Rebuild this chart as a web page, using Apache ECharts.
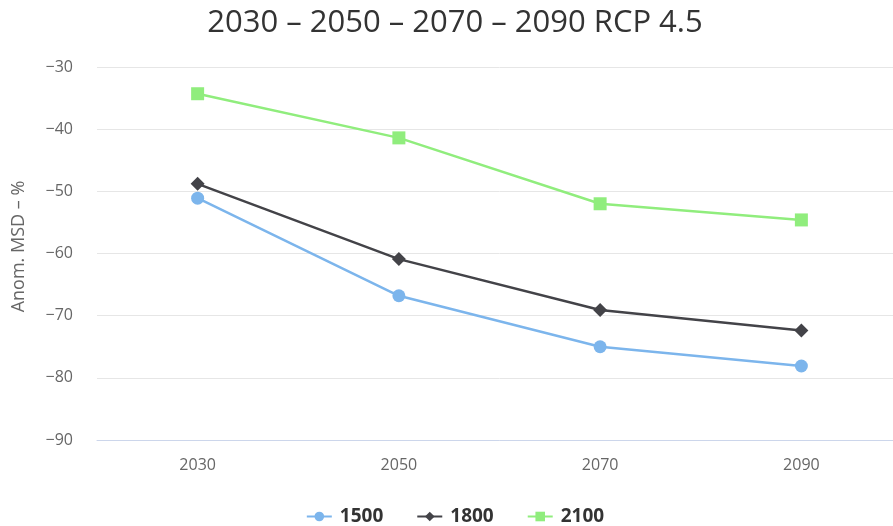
<!DOCTYPE html>
<html>
<head>
<meta charset="utf-8">
<script src="https://cdn.jsdelivr.net/npm/echarts@6/dist/echarts.min.js"></script>
<style>html,body{margin:0;padding:0;background:#fff;overflow:hidden;}#c{width:910px;height:526px;}</style>
</head>
<body>
<div id="c"></div>
<script>
const categories = ['2030', '2050', '2070', '2090'];
const s1500 = [-51.1, -66.8, -75.0, -78.1];
const s1800 = [-48.8, -60.9, -69.1, -72.4];
const s2100 = [-34.3, -41.4, -52.0, -54.6];
const yTicks = { min: -90, max: -30, interval: 10 };

const chart = echarts.init(document.getElementById('c'));
const font = '"Open Sans", sans-serif';
chart.setOption({
  animation: false,
  title: {
    text: '2030 – 2050 – 2070 – 2090 RCP 4.5',
    left: 'center', top: 3,
    textStyle: { fontFamily: font, fontSize: 31, fontWeight: 'normal', color: '#333' }
  },
  legend: {
    top: 502, left: 'center', itemGap: 33, itemWidth: 25, itemHeight: 12,
    textStyle: { fontFamily: font, fontSize: 19, fontWeight: 'bold', color: '#333', padding: [0, 0, 0, 3] },
    data: ['1500', '1800', '2100']
  },
  grid: { left: 97, top: 67, width: 805, height: 373 },
  xAxis: {
    type: 'category', data: categories, boundaryGap: true,
    axisLine: { lineStyle: { color: '#ccd6eb', width: 1 } },
    axisTick: { show: false },
    axisLabel: { color: '#666', fontFamily: font, fontSize: 16, margin: 17 }
  },
  yAxis: {
    type: 'value', min: yTicks.min, max: yTicks.max, interval: yTicks.interval,
    name: 'Anom. MSD – %', nameLocation: 'middle', nameGap: 69,
    nameTextStyle: { color: '#666', fontFamily: font, fontSize: 18, padding: [0, 0, 0, 14] },
    axisLine: { show: false }, axisTick: { show: false },
    axisLabel: { color: '#666', fontFamily: font, fontSize: 16, margin: 24,
      formatter: v => String(v).replace('-', '−') },
    splitLine: { lineStyle: { color: '#e6e6e6', width: 1 } }
  },
  series: [
    { name: '1500', type: 'line', data: s1500, symbol: 'circle', symbolSize: 13,
      itemStyle: { color: '#7cb5ec' }, lineStyle: { width: 2.5, color: '#7cb5ec' } },
    { name: '1800', type: 'line', data: s1800, symbol: 'diamond', symbolSize: 14,
      itemStyle: { color: '#434348' }, lineStyle: { width: 2.5, color: '#434348' } },
    { name: '2100', type: 'line', data: s2100, symbol: 'rect', symbolSize: 13,
      itemStyle: { color: '#90ed7d' }, lineStyle: { width: 2.5, color: '#90ed7d' } }
  ]
});
</script>
</body>
</html>
